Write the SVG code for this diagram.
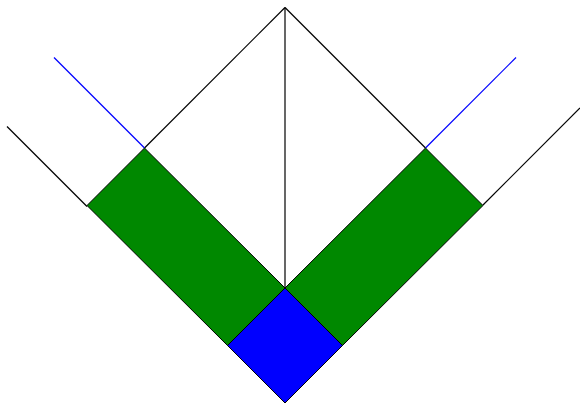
<svg xmlns="http://www.w3.org/2000/svg" width="580" height="405" viewBox="0 0 580 405">
<style>
.ln{stroke:#000;stroke-width:1.2;fill:none}
.bl{stroke:#0000ff;stroke-width:1.2;fill:none}
.sh{stroke:#000;stroke-width:1}
</style>
<rect width="580" height="405" fill="#fff"/>
<g id="connectors">
<line class="ln" x1="285" y1="7.5" x2="144.5" y2="148"/>
<line class="ln" x1="285" y1="7.5" x2="425.5" y2="148"/>
<line class="ln" x1="285" y1="7.5" x2="285" y2="288"/>
<line class="bl" x1="54" y1="57.5" x2="144.5" y2="148"/>
<line class="bl" x1="516" y1="57.5" x2="425.5" y2="148"/>
<line class="ln" x1="7" y1="126.5" x2="87" y2="206.5"/>
<line class="ln" x1="580" y1="108" x2="483" y2="205"/>
</g>
<g id="left-band"><polygon class="sh" fill="#008800" points="144.5,148 285,288 227.5,345.5 87,205.5"/></g>
<g id="right-band"><polygon class="sh" fill="#008800" points="425.5,148 483,205.5 342.5,345.5 285,288"/></g>
<g id="diamond"><polygon class="sh" fill="#0000ff" points="285,288 342.5,345.5 285,403 227.5,345.5"/></g>
</svg>
